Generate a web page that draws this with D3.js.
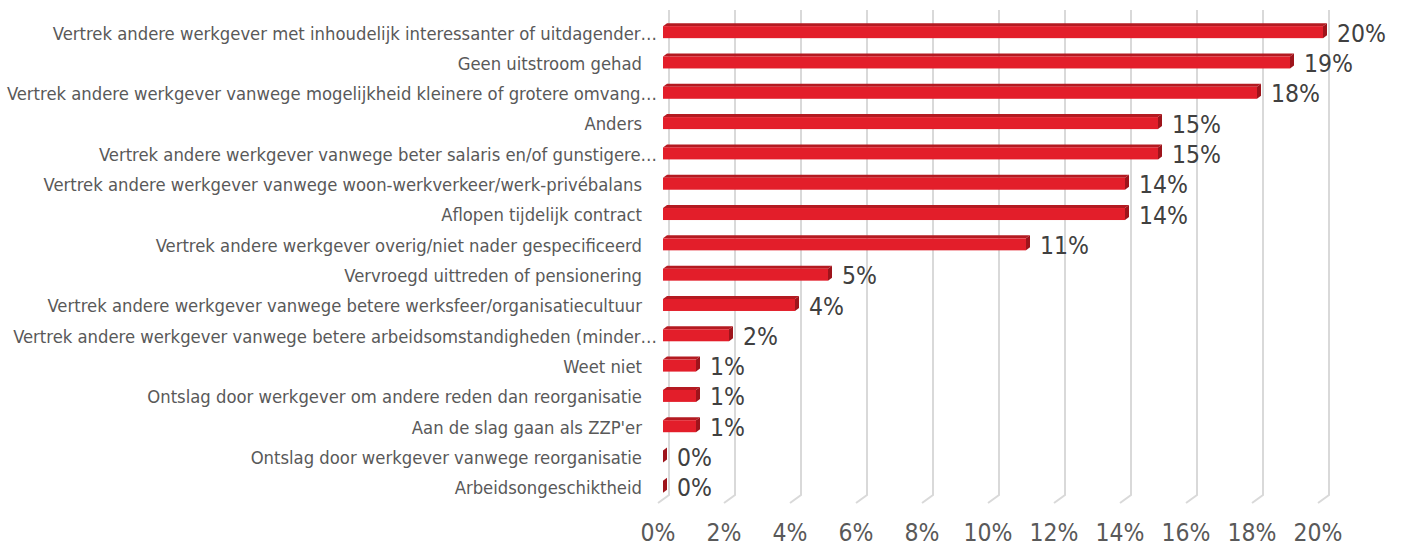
<!DOCTYPE html>
<html>
<head lang="nl">
    <meta charset="UTF-8">
    <title>Redenen uitstroom</title>
    <style>
        body { margin: 0; background: #fff; }
        svg text { font-family: "DejaVu Sans Condensed", "DejaVu Sans", Verdana, sans-serif; }
    </style>
</head>
<body>

<script src="https://cdn.jsdelivr.net/npm/d3@7"></script>
<script>

    var categories = [
        'Vertrek andere werkgever met inhoudelijk interessanter of uitdagender\u2026',
        'Geen uitstroom gehad',
        'Vertrek andere werkgever vanwege mogelijkheid kleinere of grotere omvang\u2026',
        'Anders',
        'Vertrek andere werkgever vanwege beter salaris en/of gunstigere\u2026',
        'Vertrek andere werkgever vanwege woon-werkverkeer/werk-privébalans',
        'Aflopen tijdelijk contract',
        'Vertrek andere werkgever overig/niet nader gespecificeerd',
        'Vervroegd uittreden of pensionering',
        'Vertrek andere werkgever vanwege betere werksfeer/organisatiecultuur',
        'Vertrek andere werkgever vanwege betere arbeidsomstandigheden (minder\u2026',
        'Weet niet',
        'Ontslag door werkgever om andere reden dan reorganisatie',
        'Aan de slag gaan als ZZP\'er',
        'Ontslag door werkgever vanwege reorganisatie',
        'Arbeidsongeschiktheid'
    ];
    var values = [20, 19, 18, 15, 15, 14, 14, 11, 5, 4, 2, 1, 1, 1, 0, 0];
    var ticks = [0, 2, 4, 6, 8, 10, 12, 14, 16, 18, 20];

    var w = 1402,
        h = 547;
    var depth = 4;      // bar depth (3d look)
    var wallShift = 6;  // back wall offset vs. bar front

    var svg = d3.select('body')
            .append('svg')
            .attr('width', w)
            .attr('height', h);

    var x = d3.scaleLinear().domain([0, 20]).range([663, 1323]);
    var y = d3.scaleBand().domain(categories).range([15, 500]);
    var yc = function(d) { return y(d) + y.bandwidth() / 2; };

    // gridlines: back wall + floor
    svg.selectAll('path.grid')
            .data(ticks)
            .enter()
            .append('path')
            .attr('class', 'grid')
            .attr('d', function(d) {
                var xb = x(d) + wallShift;
                return 'M' + xb + ',10 L' + xb + ',495 L' + (x(d) - 5) + ',503';
            })
            .attr('fill', 'none')
            .attr('stroke', '#d9d9d9')
            .attr('stroke-width', 2);

    svg.selectAll('text.tick')
            .data(ticks)
            .enter()
            .append('text')
            .attr('class', 'tick')
            .text(function(d) { return d + '%'; })
            .attr('x', function(d) { return x(d) - 5; })
            .attr('y', 541)
            .attr('text-anchor', 'middle')
            .attr('font-size', '24.5px')
            .attr('fill', '#595959');

    var bars = svg.selectAll('g.bar')
            .data(categories)
            .enter()
            .append('g')
            .attr('class', 'bar');

    // top face
    bars.append('path')
            .attr('d', function(d, i) {
                var x0 = x(0), x1 = x(values[i]), t = yc(d) - 4;
                return 'M' + x0 + ',' + t + ' L' + (x0 + depth) + ',' + (t - 3) +
                       ' L' + (x1 + depth) + ',' + (t - 3) + ' L' + x1 + ',' + t + 'Z';
            })
            .attr('fill', '#b41a21');

    // front face
    bars.append('rect')
            .attr('x', x(0))
            .attr('y', function(d) { return yc(d) - 4; })
            .attr('width', function(d, i) { return x(values[i]) - x(0); })
            .attr('height', 12)
            .attr('fill', '#e31e2a');

    // end face
    bars.append('path')
            .attr('d', function(d, i) {
                var x1 = x(values[i]), t = yc(d) - 4;
                return 'M' + x1 + ',' + t + ' L' + (x1 + depth) + ',' + (t - 3) +
                       ' L' + (x1 + depth) + ',' + (t + 9) + ' L' + x1 + ',' + (t + 12) + 'Z';
            })
            .attr('fill', '#9e141b');

    // category labels
    svg.selectAll('text.cat')
            .data(categories)
            .enter()
            .append('text')
            .attr('class', 'cat')
            .text(function(d) { return d; })
            .attr('x', function(d) { return d.slice(-1) === '\u2026' ? 657 : 642; })
            .attr('y', function(d) { return yc(d) + 3; })
            .attr('dy', '0.35em')
            .attr('text-anchor', 'end')
            .attr('font-size', '18.3px')
            .attr('fill', '#595959');

    // value labels
    svg.selectAll('text.val')
            .data(values)
            .enter()
            .append('text')
            .attr('class', 'val')
            .text(function(d) { return d + '%'; })
            .attr('x', function(d) { return x(d) + 14; })
            .attr('y', function(d, i) { return yc(categories[i]) + 3; })
            .attr('dy', '0.35em')
            .attr('font-size', '24.5px')
            .attr('fill', '#404040');

</script>
</body>
</html>
